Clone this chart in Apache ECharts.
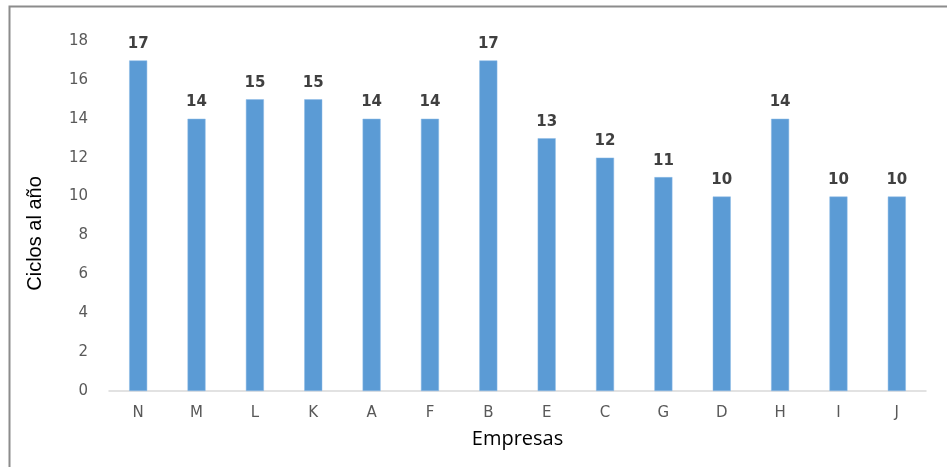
<!DOCTYPE html>
<html>
<head>
<meta charset="utf-8">
<script src="https://cdn.jsdelivr.net/npm/echarts@6/dist/echarts.min.js"></script>
<style>
  html, body { margin: 0; padding: 0; background: #fff; }
  #chart { width: 947px; height: 467px; }
</style>
</head>
<body>
<div id="chart"></div>
<script>
// Ciclos al año por empresa
const empresas = ['N', 'M', 'L', 'K', 'A', 'F', 'B', 'E', 'C', 'G', 'D', 'H', 'I', 'J'];
const ciclos = [17, 14, 15, 15, 14, 14, 17, 13, 12, 11, 10, 14, 10, 10];

const labelFont = '"DejaVu Sans", Verdana, sans-serif';

const chart = echarts.init(document.getElementById('chart'));
chart.setOption({
  backgroundColor: '#fff',
  animation: false,
  graphic: [{
    type: 'rect',
    shape: { x: 9.5, y: 6.5, width: 1000, height: 1000 },
    style: { fill: 'none', stroke: '#8c8c8c', lineWidth: 2 },
    silent: true
  }, {
    type: 'text',
    left: 25, top: 'middle',
    rotation: Math.PI / 2,
    style: {
      text: 'Ciclos al año',
      font: '20px "Liberation Sans Narrow", "Liberation Sans", sans-serif',
      fill: '#000'
    }
  }],
  grid: { left: 109, right: 21, top: 41, bottom: 76 },
  xAxis: {
    type: 'category',
    data: empresas,
    name: 'Empresas',
    nameLocation: 'middle',
    nameGap: 38,
    nameTextStyle: { fontSize: 20, color: '#000', fontFamily: 'Open Sans' },
    axisLine: { lineStyle: { color: '#d9d9d9', width: 1.5 } },
    axisTick: { show: false },
    axisLabel: { color: '#595959', fontSize: 15, margin: 15, fontFamily: labelFont }
  },
  yAxis: {
    type: 'value',
    min: 0, max: 18, interval: 2,
    axisLine: { show: false },
    axisTick: { show: false },
    splitLine: { show: false },
    axisLabel: { color: '#595959', fontSize: 15, margin: 21, fontFamily: labelFont }
  },
  series: [{
    type: 'bar',
    data: ciclos,
    barWidth: 18,
    itemStyle: { color: '#5b9bd5', borderColor: '#8dbbe6', borderWidth: 0.5 },
    label: {
      show: true,
      position: 'top',
      distance: 9,
      color: '#404040',
      fontWeight: 'bold',
      fontSize: 15,
      fontFamily: labelFont
    }
  }]
});
</script>
</body>
</html>
